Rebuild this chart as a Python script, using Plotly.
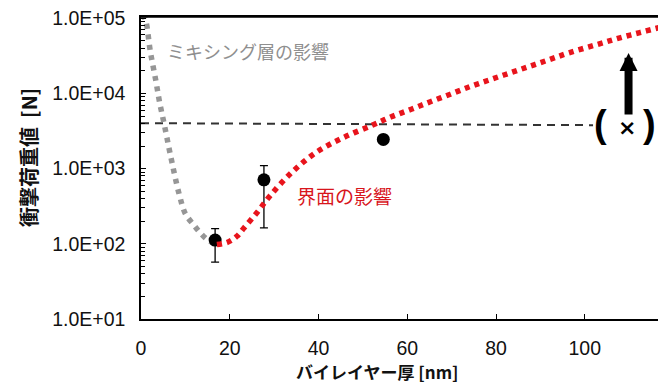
import plotly.graph_objects as go

# Measured points (black circles with error bars)
pt_x = [16.7, 27.7, 54.6]
pt_y = [112, 711, 2450]
pt_err_hi = [159, 1100, 2450]
pt_err_lo = [57, 163, 2450]

# Gray dotted curve (mixing layer effect), log10 values
gray_x = [0.3, 1.0, 2.1, 3.4, 4.2, 5.2, 6.6, 8.6, 10.0, 11.9, 13.3, 15.1, 17.1]
gray_logy = [5.05, 4.98, 4.56, 4.15, 3.88, 3.60, 3.19, 2.66, 2.40, 2.25, 2.15, 2.05, 1.99]

# Red dotted curve (interface effect), log10 values
red_x = [17.1, 19.5, 21.6, 23.2, 26.2, 29.1, 33.8, 39.3, 45.5, 52.2, 56.4, 60.9, 65.2,
         69.7, 74.1, 78.5, 83.0, 87.5, 92.0, 96.4, 103.3, 107.9, 112.4, 117.0, 118.5]
red_logy = [1.99, 2.02, 2.10, 2.21, 2.42, 2.64, 2.94, 3.21, 3.41, 3.58, 3.69, 3.79, 3.89,
            3.99, 4.09, 4.18, 4.27, 4.36, 4.45, 4.54, 4.66, 4.74, 4.81, 4.88, 4.90]

# Dashed reference line
dash_x = [0, 118.5]
dash_y = [4030, 3750]

y_tickvals = [10, 100, 1000, 10000, 100000]
y_ticktext = ["1.0E+01", "1.0E+02", "1.0E+03", "1.0E+04", "1.0E+05"]
y_minor_vals = [m * 10 ** k for k in range(1, 5) for m in range(2, 10)]
x_tickvals = [0, 20, 40, 60, 80, 100]

# page body has an 8px margin: figure coordinates = screen coordinates - 8
OFF = 8
PL, PR, PT, PB = 141, 666, 17, 319   # plot area in screen pixels

fig = go.Figure()

fig.add_trace(go.Scatter(x=dash_x, y=dash_y, mode="lines",
                         line=dict(color="#333333", width=2, dash="8px,6px"),
                         hoverinfo="skip"))
fig.add_trace(go.Scatter(x=gray_x, y=[10 ** v for v in gray_logy], mode="lines",
                         line=dict(color="#969696", width=5.5, dash="5px,5.5px", shape="spline"),
                         hoverinfo="skip"))
fig.add_trace(go.Scatter(x=pt_x, y=pt_y, mode="markers",
                         marker=dict(color="black", size=13),
                         error_y=dict(type="data", symmetric=False,
                                      array=[h - y for h, y in zip(pt_err_hi, pt_y)],
                                      arrayminus=[y - l for l, y in zip(pt_err_lo, pt_y)],
                                      color="black", thickness=1.3, width=4)))
fig.add_trace(go.Scatter(x=red_x, y=[10 ** v for v in red_logy], mode="lines",
                         line=dict(color="#e8141c", width=5.5, dash="5px,5px", shape="spline"),
                         hoverinfo="skip"))

W, H = 666, 383
fig.update_layout(
    width=W, height=H,
    margin=dict(l=PL - OFF, r=W - (PR - OFF), t=PT - OFF, b=H - (PB - OFF), pad=0,
                autoexpand=False),
    paper_bgcolor="white", plot_bgcolor="white",
    showlegend=False,
    font=dict(family="Liberation Sans, Arial, sans-serif", color="#111111"),
)

fig.update_xaxes(range=[0, 118.3], tickvals=x_tickvals, ticks="inside", ticklen=5,
                 tickcolor="black", showline=True, linecolor="black", linewidth=1.5,
                 mirror=True, showgrid=False, zeroline=False, automargin=False,
                 tickfont=dict(size=19.5, family="Liberation Sans, Arial, sans-serif"),
                 ticklabelstandoff=11, ticklabeloverflow="allow")
fig.update_yaxes(type="log", range=[1, 5.017], tickvals=y_tickvals, ticktext=y_ticktext,
                 ticks="inside", ticklen=5, tickcolor="black",
                 minor=dict(tickvals=y_minor_vals, ticks="inside", ticklen=4,
                            tickcolor="black", showgrid=False),
                 showline=True, linecolor="black", linewidth=1.5,
                 showgrid=False, zeroline=False, automargin=False,
                 tickfont=dict(size=19.5, family="Liberation Sans, Arial, sans-serif"),
                 ticklabelstandoff=10, ticklabeloverflow="allow")

jp = "Noto Sans CJK JP"

def ypx(py):
    return 5 - (py - 18.3) / 75.2

def xpx(px):
    return (px - PL) / 4.4375

def xpaper(px):
    return (px - PL) / (PR - PL)

def ypaper(py):
    return (PB - py) / (PB - PT)

annotations = [
    # axis titles
    dict(text="<b>バイレイヤー厚 [nm]</b>", xref="paper", yref="paper",
         x=xpaper(377), y=ypaper(372), showarrow=False,
         font=dict(family=jp, size=17, color="#111111"), xanchor="center", yanchor="middle"),
    dict(text="<b>衝撃荷重値  [N]</b>", xref="paper", yref="paper",
         x=xpaper(28), y=ypaper(158), showarrow=False, textangle=-90,
         font=dict(family=jp, size=20, color="#111111"), xanchor="center", yanchor="middle"),
    # curve labels
    dict(text="ミキシング層の影響", x=xpx(248), y=ypx(50.7),
         showarrow=False, font=dict(family=jp, size=18, color="#8f8f8f"),
         xanchor="center", yanchor="middle"),
    dict(text="界面の影響", x=xpx(344.5), y=ypx(196),
         showarrow=False, font=dict(family=jp, size=19, color="#d8151c"),
         xanchor="center", yanchor="middle"),
    # bracket symbol
    dict(text="<b>(</b>", x=xpx(600.5), y=ypx(124),
         showarrow=False, font=dict(family="Liberation Sans", size=38, color="black"),
         xanchor="center", yanchor="middle"),
    dict(text="<b>)</b>", x=xpx(649), y=ypx(124),
         showarrow=False, font=dict(family="Liberation Sans", size=38, color="black"),
         xanchor="center", yanchor="middle"),
    dict(text="<b>×</b>", x=xpx(626.7), y=ypx(128),
         showarrow=False, font=dict(family="DejaVu Sans", size=22, color="black"),
         xanchor="center", yanchor="middle"),
    # upward arrow
    dict(text="", x=xpx(628.5), y=ypx(53),
         ax=0, ay=63, showarrow=True, arrowhead=2, arrowsize=0.45, arrowwidth=8,
         arrowcolor="black"),
]
fig.update_layout(annotations=annotations)

# white gap behind the bracket symbol (breaks the dashed line)
fig.add_shape(type="rect", xref="x", yref="paper",
              x0=xpx(593), x1=xpx(658),
              y0=ypaper(143), y1=ypaper(108),
              fillcolor="white", line=dict(width=0), layer="above")
# top frame line
fig.add_shape(type="line", xref="paper", yref="paper", x0=0, x1=1, y0=1, y1=1,
              line=dict(color="black", width=1.5), layer="above")

fig.write_html("out.html")
